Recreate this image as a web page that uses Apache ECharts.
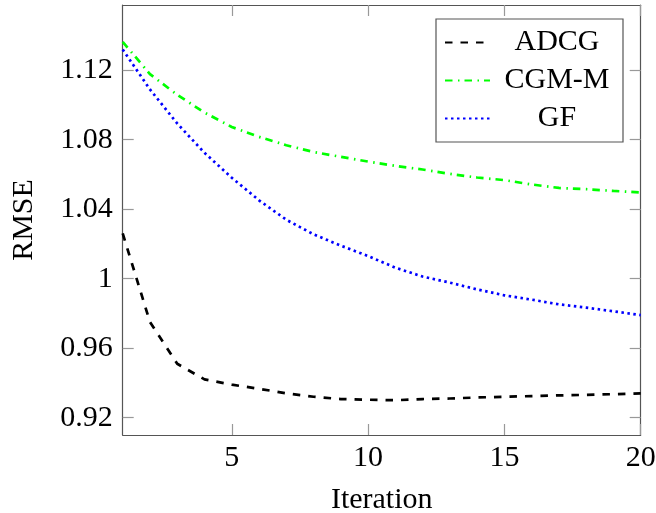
<!DOCTYPE html>
<html>
<head>
<meta charset="utf-8">
<script src="https://cdn.jsdelivr.net/npm/echarts@6/dist/echarts.min.js"></script>
<style>html,body{margin:0;padding:0;background:#fff;}#c{width:656px;height:513px;}</style>
</head>
<body>
<div id="c"></div>
<script>
var iterations = [1,2,3,4,5,6,7,8,9,10,11,12,13,14,15,16,17,18,19,20];
var adcg = [1.026,0.975,0.951,0.942,0.939,0.9366,0.934,0.932,0.9307,0.9303,0.930,0.9307,0.931,0.9316,0.932,0.9324,0.9328,0.9331,0.9335,0.934];
var cgmm = [1.1363,1.1177,1.1058,1.0956,1.0873,1.0816,1.0768,1.0729,1.0701,1.0674,1.0649,1.0628,1.0603,1.0582,1.0567,1.0542,1.0522,1.0515,1.0505,1.0496];
var gf = [1.1319,1.1089,1.0893,1.0724,1.0581,1.0451,1.0339,1.0255,1.019,1.013,1.0063,1.0012,0.9977,0.9938,0.9904,0.9879,0.9852,0.9833,0.9812,0.979];
var xTicks = [5,10,15,20];
var yTicks = [0.92,0.96,1.00,1.04,1.08,1.12];

var FONT = '"Liberation Serif", "DejaVu Serif", serif';
function pairs(arr){ return iterations.map(function(x,i){ return [x, arr[i]]; }); }
function fmtY(v){ return String(parseFloat(Number(v).toFixed(2))); }

var axisLineStyle = {color:'#555', width:1.2};
var tickStyle = {color:'#999', width:1.2};

var chart = echarts.init(document.getElementById('c'), null, {renderer:'canvas'});
chart.setOption({
  animation:false,
  backgroundColor:'#fff',
  grid:{left:122.7, right:15.3, top:5, bottom:78, containLabel:false, outerBoundsMode:'none'},
  legend:{
    show:true, orient:'vertical', left:436, top:19,
    padding:[8,4,8,8], itemGap:7, itemWidth:45, itemHeight:14,
    borderColor:'#555', borderWidth:1.2, backgroundColor:'#fff',
    itemStyle:{opacity:0, color:'transparent', borderWidth:0},
    formatter:function(n){ return '{a|' + n + '}'; },
    textStyle:{fontFamily:FONT, fontSize:30, color:'#000', lineHeight:31,
      rich:{a:{fontFamily:FONT, fontSize:30, color:'#000', width:124, align:'center', lineHeight:31}}},
    data:['ADCG','CGM-M','GF']
  },
  xAxis:[{
    type:'value', min:1, max:20, position:'bottom',
    name:'Iteration', nameLocation:'middle', nameGap:50,
    nameTextStyle:{fontFamily:FONT, fontSize:30, color:'#000'},
    axisLine:{show:true, onZero:false, lineStyle:axisLineStyle},
    axisTick:{show:true, inside:true, length:11, lineStyle:tickStyle, customValues:xTicks},
    axisLabel:{show:true, fontFamily:FONT, fontSize:30, color:'#000', margin:8, customValues:xTicks},
    splitLine:{show:false}
  },{
    type:'value', min:1, max:20, position:'top',
    axisLine:{show:true, onZero:false, lineStyle:axisLineStyle},
    axisTick:{show:true, inside:true, length:11, lineStyle:tickStyle, customValues:xTicks},
    axisLabel:{show:false},
    splitLine:{show:false}
  }],
  yAxis:[{
    type:'value', min:0.91, max:1.1575, position:'left',
    name:'RMSE', nameLocation:'middle', nameGap:84, nameRotate:90,
    nameTextStyle:{fontFamily:FONT, fontSize:30, color:'#000'},
    axisLine:{show:true, onZero:false, lineStyle:axisLineStyle},
    axisTick:{show:true, inside:true, length:11, lineStyle:tickStyle, customValues:yTicks},
    axisLabel:{show:true, fontFamily:FONT, fontSize:30, color:'#000', margin:10, customValues:yTicks, formatter:fmtY},
    splitLine:{show:false}
  },{
    type:'value', min:0.91, max:1.1575, position:'right',
    axisLine:{show:true, onZero:false, lineStyle:axisLineStyle},
    axisTick:{show:true, inside:true, length:11, lineStyle:tickStyle, customValues:yTicks},
    axisLabel:{show:false},
    splitLine:{show:false}
  }],
  series:[
    {name:'ADCG', type:'line', xAxisIndex:0, yAxisIndex:0, data:pairs(adcg), symbol:'none', color:'#000',
     lineStyle:{color:'#000', width:2.7, type:[7.5,8]}},
    {name:'CGM-M', type:'line', xAxisIndex:0, yAxisIndex:0, data:pairs(cgmm), symbol:'none', color:'#00ff00',
     lineStyle:{color:'#00ff00', width:2.7, type:[7.5,5.5,1.5,5]}},
    {name:'GF', type:'line', xAxisIndex:0, yAxisIndex:0, data:pairs(gf), symbol:'none', color:'#0000ff',
     lineStyle:{color:'#0000ff', width:2.7, type:[2.5,3.5]}}
  ]
});
</script>
</body>
</html>
